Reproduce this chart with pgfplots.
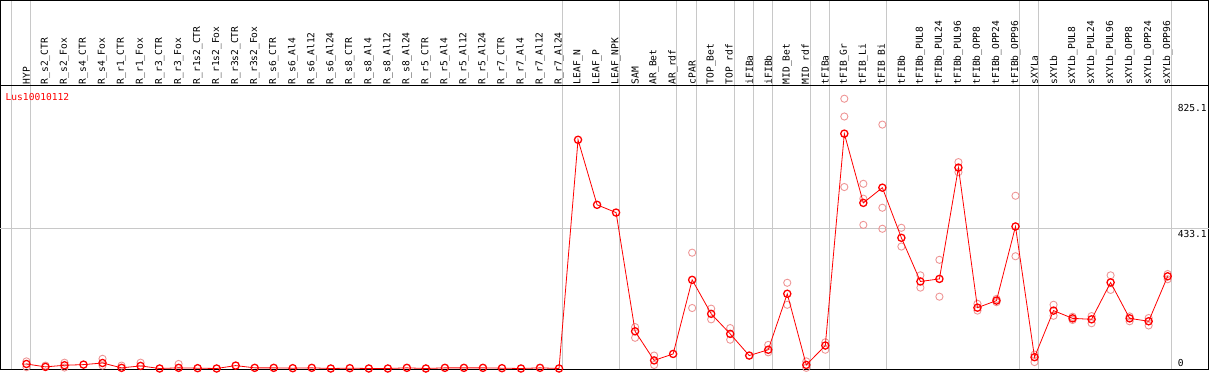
\documentclass[border=0pt]{standalone}
\usepackage{pgfplots}
\pgfplotsset{compat=1.18}
\usepackage{pgfplotstable}
\usepackage{fontspec}
\setmainfont{DejaVu Sans Mono}
\definecolor{mainred}{RGB}{255,0,0}
\definecolor{repred}{RGB}{238,150,150}
\definecolor{gridgray}{RGB}{200,200,200}

\pgfplotstableread{
x y
0 14
1 5
2 10
3 12
4 17
5 2
6 8
7 0
8 2
9 1
10 0
11 9
12 2
13 2
14 1
15 2
16 0
17 1
18 0
19 0
20 2
21 0
22 2
23 2
24 2
25 1
26 0
27 2
28 0
29 707
30 506
31 482
32 115
33 25
34 45
35 274
36 169
37 107
38 40
39 58
40 231
41 11
42 71
43 726
44 512
45 559
46 404
47 269
48 277
49 621
50 188
51 210
52 439
53 35
54 179
55 155
56 152
57 266
58 155
59 146
60 285
}\maindata

\pgfplotstableread{
x y
0 22
0 4
1 9
2 18
2 3
4 30
4 9
5 9
6 18
8 14
32 128
32 95
33 40
33 11
35 358
35 187
36 185
36 152
37 125
37 89
39 73
39 50
40 265
40 197
41 22
41 2
42 81
42 58
43 834
43 779
43 561
44 571
44 525
44 444
45 754
45 497
45 432
46 435
46 377
47 288
47 250
48 336
48 222
49 638
49 607
50 200
50 179
51 215
51 205
52 534
52 347
53 43
53 20
54 197
54 163
55 160
55 150
56 162
56 140
57 288
57 243
58 161
58 146
59 156
59 133
60 276
60 292
}\repdata

\begin{document}
\begin{tikzpicture}
\begin{axis}[
  scale only axis,
  width=1208bp, height=284bp,
  xmin=-1.367, xmax=62.15,
  ymin=-3, ymax=875,
  clip mode=individual,
  axis line style={black, line width=0.9bp},
  xtick={0,...,60},
  xticklabels={HYP,R\_s2\_CTR,R\_s2\_Fox,R\_s4\_CTR,R\_s4\_Fox,R\_r1\_CTR,R\_r1\_Fox,R\_r3\_CTR,R\_r3\_Fox,R\_r1s2\_CTR,R\_r1s2\_Fox,R\_r3s2\_CTR,R\_r3s2\_Fox,R\_s6\_CTR,R\_s6\_Al4,R\_s6\_Al12,R\_s6\_Al24,R\_s8\_CTR,R\_s8\_Al4,R\_s8\_Al12,R\_s8\_Al24,R\_r5\_CTR,R\_r5\_Al4,R\_r5\_Al12,R\_r5\_Al24,R\_r7\_CTR,R\_r7\_Al4,R\_r7\_Al12,R\_r7\_Al24,LEAF\_N,LEAF\_P,LEAF\_NPK,SAM,AR\_Bet,AR\_rdf,cPAR,TOP\_Bet,TOP\_rdf,iFIBa,iFIBb,MID\_Bet,MID\_rdf,tFIBa,tFIB\_Gr,tFIB\_Li,tFIB\_Bi,tFIBb,tFIBb\_PUL8,tFIBb\_PUL24,tFIBb\_PUL96,tFIBb\_OPP8,tFIBb\_OPP24,tFIBb\_OPP96,sXYLa,sXYLb,sXYLb\_PUL8,sXYLb\_PUL24,sXYLb\_PUL96,sXYLb\_OPP8,sXYLb\_OPP24,sXYLb\_OPP96},
  xticklabel pos=right,
  x tick label style={rotate=90, anchor=west, inner sep=1bp, font=\fontsize{9.6bp}{11bp}\selectfont},
  ytick={0,433.1,825.1},
  yticklabels={\raisebox{2bp}{0},\raisebox{-9bp}{433.1},\raisebox{-9.5bp}{825.1}},
  yticklabel pos=right,
  y tick label style={anchor=base west, inner sep=0.5bp, xshift=-31.5bp, font=\fontsize{9.6bp}{11bp}\selectfont},
  major tick length=0pt,
  tick style={draw=none},
  /pgf/number format/assume math mode=true,
]
% group separators and reference line
\pgfplotsinvokeforeach{-0.8,0.2,28.2,31.2,34.2,35.2,37.2,38.2,39.2,41.2,42.2,45.2,52.2,53.2,60.2}{
  \draw[gridgray, line width=0.9bp] (axis cs:#1,-3) -- ([yshift=85bp]axis cs:#1,875);
}
\draw[gridgray, line width=0.9bp] (axis cs:-1.367,433.1) -- (axis cs:62.15,433.1);
% header box
\draw[black, line width=0.9bp] (rel axis cs:0,1) rectangle ([yshift=85bp]rel axis cs:1,1);
\node[anchor=west, text=mainred, inner sep=0, font=\fontsize{9.6bp}{11bp}\selectfont] at ([xshift=5bp, yshift=-12bp]rel axis cs:0,1) {Lus10010112};

\addplot[only marks, mark=o, mark size=3.6bp, mark options={draw=repred, line width=0.9bp}] table {\repdata};
\addplot[mainred, line width=0.8bp, mark=o, mark size=3.6bp, mark options={draw=mainred, line width=1.3bp}] table {\maindata};
\end{axis}
\end{tikzpicture}
\end{document}
